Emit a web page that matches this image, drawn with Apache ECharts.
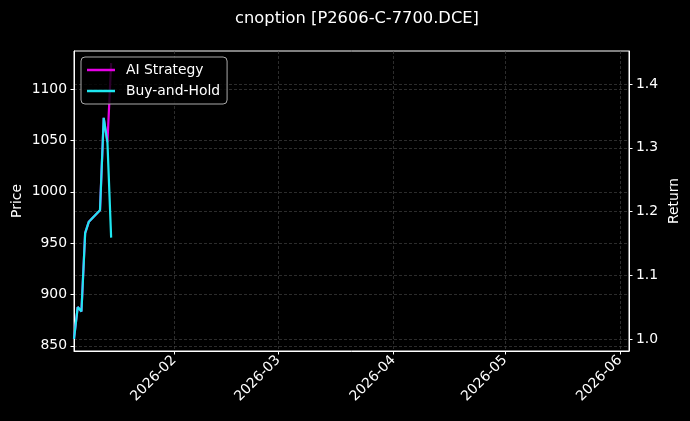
<!DOCTYPE html>
<html lang="en">
<head>
	<meta charset="utf-8">
	<title>cnoption [P2606-C-7700.DCE]</title>
	<style>
		html, body { margin: 0; padding: 0; background: #000; }
		#main { width: 690px; height: 421px; }
	</style>
</head>
<body>
	<div id="main"></div>
	<script src="https://cdn.jsdelivr.net/npm/echarts@6/dist/echarts.min.js"></script>
	<script type="text/javascript">
		// data
		var dates = ['2026-01-05','2026-01-06','2026-01-07','2026-01-08','2026-01-09','2026-01-12','2026-01-13','2026-01-14','2026-01-15'];
		var aiReturn = [1.000, 1.050, 1.043, 1.166, 1.184, 1.202, 1.347, 1.309, 1.433];
		var bhReturn = [1.000, 1.050, 1.043, 1.166, 1.184, 1.202, 1.347, 1.309, 1.159];
		var monthTicks = ['2026-02','2026-03','2026-04','2026-05','2026-06'];
		var priceTicks = [850, 900, 950, 1000, 1050, 1100];
		var returnTicks = [1.0, 1.1, 1.2, 1.3, 1.4];

		var FONT = 'DejaVu Sans';
		var GRIDLINE = { show: true, lineStyle: { color: '#4a4a4a', type: [3, 2], width: 0.6 } };

		function ts(s) { return new Date(s + (s.length === 7 ? '-01' : '') + 'T00:00:00Z').getTime(); }
		function pairs(vals) {
			var out = [];
			for (var i = 0; i < dates.length; i++) out.push([ts(dates[i]), vals[i]]);
			return out;
		}
		var monthVals = monthTicks.map(ts);

		var myChart = echarts.init(document.getElementById('main'));
		myChart.setOption({
			backgroundColor: '#000',
			animation: false,
			textStyle: { fontFamily: FONT },
			title: {
				text: 'cnoption [P2606-C-7700.DCE]',
				left: 352, top: 6, textAlign: 'center',
				textStyle: { color: '#fff', fontSize: 16.3, fontWeight: 'normal', fontFamily: FONT }
			},
			legend: {
				orient: 'vertical', left: 81, top: 57,
				padding: [6, 7, 6, 6], itemGap: 7,
				itemWidth: 28, itemHeight: 2.5, icon: 'rect',
				backgroundColor: 'rgba(0,0,0,0.8)', borderColor: '#aaa', borderWidth: 1, borderRadius: 4,
				textStyle: { color: '#fff', fontSize: 13.9, fontFamily: FONT, padding: [0, 0, 0, 6] },
				data: ['AI Strategy', 'Buy-and-Hold']
			},
			grid: {
				left: 74, right: 61, top: 51, bottom: 70, outerBoundsMode: 'none', containLabel: false,
				show: true, borderColor: '#fff', borderWidth: 1
			},
			xAxis: {
				type: 'value',
				min: ts('2026-01-05'), max: ts('2026-06-03') + 10 * 3600000,
				axisLine: { show: true, onZero: false, lineStyle: { color: '#fff' } },
				axisTick: { show: true, length: 3.5, customValues: monthVals, lineStyle: { color: '#fff' } },
				axisLabel: {
					customValues: monthVals, rotate: 45, margin: 7, color: '#fff', fontSize: 13.9, fontFamily: FONT,
					formatter: function (v) {
						var d = new Date(v);
						var m = d.getUTCMonth() + 1;
						return d.getUTCFullYear() + '-' + (m < 10 ? '0' + m : m);
					}
				},
				splitLine: GRIDLINE
			},
			yAxis: [
				{
					type: 'value', name: 'Price', nameLocation: 'middle', nameGap: 50, nameRotate: 90,
					nameMoveOverlap: false,
					nameTextStyle: { color: '#fff', fontSize: 13.9, fontFamily: FONT },
					min: 845, max: 1137,
					axisLine: { show: true, lineStyle: { color: '#fff' } },
					axisTick: { show: true, length: 3.5, customValues: priceTicks, lineStyle: { color: '#fff' } },
					axisLabel: {
						customValues: priceTicks, color: '#fff', fontSize: 13.9, fontFamily: FONT, margin: 7,
						formatter: function (v) { return String(v); }
					},
					splitLine: GRIDLINE
				},
				{
					type: 'value', name: 'Return', nameLocation: 'middle', nameGap: 38, nameRotate: 90,
					nameMoveOverlap: false,
					nameTextStyle: { color: '#fff', fontSize: 13.9, fontFamily: FONT },
					min: 0.981, max: 1.452, position: 'right',
					axisLine: { show: true, lineStyle: { color: '#fff' } },
					axisTick: { show: true, length: 3.5, customValues: returnTicks, lineStyle: { color: '#fff' } },
					axisLabel: {
						customValues: returnTicks, color: '#fff', fontSize: 13.9, fontFamily: FONT, margin: 7,
						formatter: function (v) { return v.toFixed(1); }
					},
					splitLine: GRIDLINE
				}
			],
			series: [
				{
					name: 'AI Strategy', type: 'line', yAxisIndex: 1, data: pairs(aiReturn),
					showSymbol: false, symbol: 'none', color: '#e600e6',
					lineStyle: { width: 2.2, color: '#e600e6' }
				},
				{
					name: 'Buy-and-Hold', type: 'line', yAxisIndex: 1, data: pairs(bhReturn),
					showSymbol: false, symbol: 'none', color: '#1ee6f0',
					lineStyle: { width: 2.2, color: '#1ee6f0' }
				}
			]
		});
	</script>
</body>
</html>
